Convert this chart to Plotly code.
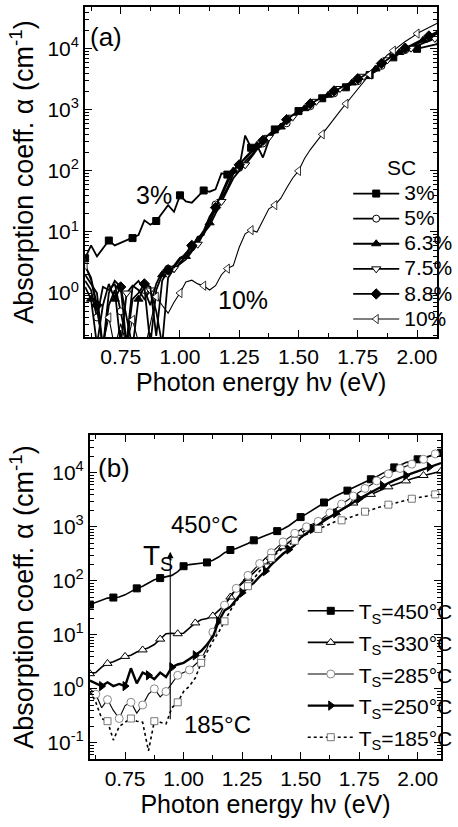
import plotly.graph_objects as go

FONT = "Liberation Sans, Arial, Helvetica, sans-serif"

# Photon energy grid (eV) shared by every spectrum
energy = [0.600, 0.625, 0.650, 0.675, 0.700, 0.725, 0.750, 0.775, 0.800, 0.825,
          0.850, 0.875, 0.900, 0.925, 0.950, 0.975, 1.000, 1.025, 1.050, 1.075,
          1.100, 1.125, 1.150, 1.175, 1.200, 1.225, 1.250, 1.275, 1.300, 1.325,
          1.350, 1.375, 1.400, 1.425, 1.450, 1.475, 1.500, 1.525, 1.550, 1.575,
          1.600, 1.625, 1.650, 1.675, 1.700, 1.725, 1.750, 1.775, 1.800, 1.825,
          1.850, 1.875, 1.900, 1.925, 1.950, 1.975, 2.000, 2.025, 2.050, 2.075,
          2.100]

# ---- (a) silane concentration series: log10(alpha / cm^-1) ----
sc_labels = ["3%", "5%", "6.3%", "7.5%", "8.8%", "10%"]

lg_sc_3 = [0.57, 0.78, 0.60, 0.74, 0.86, 0.78, 0.82, 0.87, 0.90, 0.95,
           1.19, 1.12, 1.18, 1.32, 1.44, 1.33, 1.60, 1.50, 1.48, 1.58,
           1.68, 1.66, 1.70, 1.96, 1.94, 1.95, 2.05, 2.58, 2.38, 2.42,
           2.22, 2.50, 2.68, 2.74, 2.82, 2.90, 2.98, 3.02, 3.07, 3.14,
           3.19, 3.23, 3.27, 3.32, 3.37, 3.42, 3.47, 3.52, 3.57, 3.63,
           3.70, 3.78, 3.86, 3.92, 3.96, 3.98, 4.00, 4.02, 4.04, 4.07,
           4.10]
lg_sc_5 = [0.20, 0.05, -0.40, 0.10, 0.05, 0.15, -0.30, -0.80, 0.10, 0.20,
           0.05, -0.20, 0.15, 0.35, 0.40, 0.45, 0.58, 0.62, 0.75, 0.92,
           0.95, 1.20, 1.45, 1.55, 1.72, 1.95, 2.05, 2.15, 2.25, 2.38,
           2.45, 2.55, 2.62, 2.70, 2.78, 2.88, 2.95, 3.00, 3.06, 3.12,
           3.18, 3.22, 3.27, 3.32, 3.37, 3.42, 3.47, 3.52, 3.58, 3.65,
           3.72, 3.80, 3.87, 3.93, 3.98, 4.03, 4.08, 4.13, 4.18, 4.23,
           4.28]
lg_sc_63 = [0.10, -0.10, -0.85, -0.20, 0.15, -0.10, 0.10, -0.40, -0.90, -0.10,
            0.10, -0.85, 0.05, 0.30, 0.42, 0.35, 0.50, 0.60, 0.70, 0.85,
            1.00, 1.15, 1.38, 1.60, 1.80, 2.00, 2.12, 2.20, 2.30, 2.42,
            2.50, 2.58, 2.65, 2.72, 2.80, 2.88, 2.96, 3.02, 3.08, 3.14,
            3.20, 3.24, 3.29, 3.34, 3.39, 3.44, 3.49, 3.54, 3.60, 3.67,
            3.74, 3.82, 3.88, 3.94, 3.99, 4.04, 4.09, 4.14, 4.19, 4.24,
            4.29]
lg_sc_75 = [0.30, 0.15, 0.00, -0.90, -0.20, 0.05, -0.85, 0.00, 0.12, 0.05,
            -0.10, 0.05, -0.30, -0.85, 0.25, 0.40, 0.48, 0.55, 0.68, 0.80,
            0.98, 1.10, 1.30, 1.50, 1.70, 1.88, 2.00, 2.10, 2.22, 2.35,
            2.45, 2.55, 2.63, 2.72, 2.80, 2.88, 2.95, 3.02, 3.08, 3.14,
            3.20, 3.25, 3.30, 3.35, 3.40, 3.45, 3.50, 3.55, 3.61, 3.68,
            3.75, 3.82, 3.88, 3.93, 3.97, 4.01, 4.05, 4.09, 4.13, 4.17,
            4.21]
lg_sc_88 = [0.45, 0.25, -0.20, -0.90, 0.00, 0.20, 0.10, -0.85, -0.10, 0.00,
            0.15, 0.10, -0.70, 0.20, 0.38, 0.42, 0.55, 0.65, 0.78, 0.88,
            1.02, 1.25, 1.40, 1.62, 1.85, 2.02, 2.10, 2.22, 2.32, 2.40,
            2.50, 2.60, 2.68, 2.76, 2.84, 2.92, 2.99, 3.05, 3.10, 3.16,
            3.21, 3.26, 3.31, 3.36, 3.41, 3.46, 3.51, 3.56, 3.62, 3.69,
            3.76, 3.83, 3.90, 3.96, 4.01, 4.06, 4.11, 4.16, 4.21, 4.26,
            4.31]
lg_sc_10 = [0.45, 0.20, -0.30, -0.85, -0.40, -0.90, -0.50, -0.85, -0.44, -0.80,
            -0.95, -0.50, -0.06, -0.20, -0.33, -0.15, 0.00, 0.18, 0.21, 0.15,
            0.12, 0.05, 0.12, 0.30, 0.40, 0.45, 0.75, 0.97, 1.03, 1.00,
            1.20, 1.38, 1.44, 1.55, 1.72, 1.88, 2.00, 2.20, 2.35, 2.48,
            2.60, 2.72, 2.85, 2.98, 3.10, 3.22, 3.35, 3.47, 3.58, 3.70,
            3.80, 3.90, 3.97, 4.05, 4.12, 4.18, 4.25, 4.30, 4.35, 4.40,
            4.45]

# ---- (b) substrate temperature series: log10(alpha / cm^-1) ----
ts_labels = ["450°C", "330°C", "285°C", "250°C", "185°C"]

lg_ts_450 = [1.56, 1.60, 1.65, 1.68, 1.69, 1.70, 1.74, 1.80, 1.86, 1.90,
             1.96, 2.02, 2.05, 2.07, 2.10, 2.17, 2.27, 2.30, 2.31, 2.32,
             2.34, 2.38, 2.44, 2.52, 2.57, 2.60, 2.64, 2.69, 2.75, 2.80,
             2.84, 2.88, 2.92, 2.96, 3.02, 3.10, 3.18, 3.24, 3.31, 3.38,
             3.45, 3.51, 3.57, 3.62, 3.67, 3.72, 3.77, 3.82, 3.88, 3.93,
             3.99, 4.04, 4.10, 4.15, 4.19, 4.22, 4.25, 4.28, 4.31, 4.34,
             4.37]
lg_ts_330 = [0.28, 0.30, 0.40, 0.47, 0.50, 0.55, 0.60, 0.62, 0.68, 0.72,
             0.76, 0.82, 0.92, 1.02, 1.03, 1.02, 1.03, 1.12, 1.22, 1.28,
             1.30, 1.35, 1.45, 1.55, 1.70, 1.85, 1.95, 2.05, 2.15, 2.25,
             2.35, 2.45, 2.55, 2.63, 2.72, 2.80, 2.88, 2.95, 3.01, 3.08,
             3.14, 3.20, 3.26, 3.32, 3.38, 3.44, 3.49, 3.55, 3.60, 3.65,
             3.69, 3.74, 3.78, 3.82, 3.85, 3.89, 3.92, 3.95, 3.98, 4.01,
             4.03]
lg_ts_285 = [0.00, -0.10, -0.35, -0.20, -0.40, -0.55, -0.31, -0.25, -0.45, -0.30,
             -0.10, 0.00, -0.15, -0.05, 0.10, 0.25, 0.30, 0.35, 0.45, 0.55,
             0.75, 1.05, 1.33, 1.55, 1.72, 1.86, 1.98, 2.10, 2.20, 2.32,
             2.42, 2.52, 2.62, 2.72, 2.80, 2.88, 2.95, 3.00, 3.05, 3.10,
             3.18, 3.26, 3.34, 3.42, 3.50, 3.57, 3.64, 3.71, 3.78, 3.85,
             3.92, 3.98, 4.03, 4.08, 4.12, 4.16, 4.20, 4.25, 4.30, 4.35,
             4.40]
lg_ts_250 = [0.15, 0.10, 0.05, 0.12, 0.05, 0.09, 0.05, 0.38, 0.10, 0.30,
             0.25, 0.18, 0.30, 0.22, 0.40, 0.45, 0.48, 0.55, 0.62, 0.70,
             0.82, 0.96, 1.25, 1.45, 1.52, 1.65, 1.78, 1.88, 1.96, 2.08,
             2.18, 2.30, 2.40, 2.50, 2.58, 2.66, 2.80, 2.88, 2.96, 3.04,
             3.11, 3.18, 3.25, 3.32, 3.39, 3.46, 3.52, 3.58, 3.64, 3.70,
             3.76, 3.81, 3.86, 3.91, 3.95, 3.99, 4.03, 4.07, 4.11, 4.15,
             4.18]
lg_ts_185 = [-0.05, -0.25, -0.55, -0.60, -0.95, -0.70, -0.62, -0.55, -0.60, -0.62,
             -1.15, -0.60, -0.62, -0.65, -0.35, -0.25, -0.05, 0.05, 0.20, 0.48,
             0.68, 0.88, 1.05, 1.25, 1.45, 1.62, 1.76, 1.90, 2.05, 2.18,
             2.30, 2.42, 2.52, 2.60, 2.67, 2.74, 2.80, 2.86, 2.91, 2.96,
             3.01, 3.06, 3.10, 3.12, 3.16, 3.20, 3.24, 3.28, 3.32, 3.35,
             3.38, 3.41, 3.44, 3.47, 3.50, 3.52, 3.54, 3.56, 3.58, 3.60,
             3.61]

# y tick positions / labels
ytick_a = [1, 10, 100, 1000, 10000]
ytick_a_text = ["10<sup>0</sup>", "10<sup>1</sup>", "10<sup>2</sup>", "10<sup>3</sup>", "10<sup>4</sup>"]
ytick_b = [0.1, 1, 10, 100, 1000, 10000]
ytick_b_text = ["10<sup>-1</sup>"] + ytick_a_text

BLACK = "black"
fig = go.Figure()


def add_series(lg, name, xa, ya, legend, line, marker, start, step=4):
    alpha = [10 ** v for v in lg]
    fig.add_trace(go.Scatter(x=energy, y=alpha, mode="lines", line=line,
                             xaxis=xa, yaxis=ya, showlegend=False, hoverinfo="skip"))
    fig.add_trace(go.Scatter(x=energy[start::step], y=alpha[start::step], mode="markers",
                             marker=marker, xaxis=xa, yaxis=ya, showlegend=False))
    # entry used only for the key
    fig.add_trace(go.Scatter(x=[None], y=[None], mode="lines+markers", line=line, marker=marker,
                             name=name, legend=legend, xaxis=xa, yaxis=ya))


def mk(symbol, filled, size=7, lw=1.0, edge=BLACK):
    return dict(symbol=symbol, size=size, color=BLACK if filled else "white",
                line=dict(color=edge, width=lw))


def leg_text(t, size):
    return '<span style="font-size:%dpx">%s</span>' % (size, t)


# panel (a)
sc_series = [lg_sc_3, lg_sc_5, lg_sc_63, lg_sc_75, lg_sc_88, lg_sc_10]
sc_markers = [mk("square", True), mk("circle", False), mk("triangle-up", True, 8),
              mk("triangle-down", False, 8), mk("diamond", True, 8), mk("triangle-left", False, 8, 0.8)]
sc_lines = [dict(color=BLACK, width=1.8)] * 5 + [dict(color=BLACK, width=1.1)]
sc_start = [0, 2, 1, 3, 2, 0]
for lg, lab, m, ln, s in zip(sc_series, sc_labels, sc_markers, sc_lines, sc_start):
    add_series(lg, leg_text(lab, 21), "x", "y", "legend", ln, m, s)

# panel (b)
ts_series = [lg_ts_450, lg_ts_330, lg_ts_285, lg_ts_250, lg_ts_185]
ts_markers = [mk("square", True), mk("triangle-up", False, 8), mk("circle", False, 8, 1.0, "#888888"),
              mk("triangle-right", True, 8), mk("square", False, 7, 0.8, "#555555")]
ts_lines = [dict(color=BLACK, width=1.6), dict(color=BLACK, width=1.6), dict(color=BLACK, width=1.1),
            dict(color=BLACK, width=2.4), dict(color=BLACK, width=1.6, dash="dot")]
ts_start = [0, 0, 1, 2, 3]
ts_step = [4, 3, 2, 4, 4]
for lg, lab, m, ln, s, st in zip(ts_series, ts_labels, ts_markers, ts_lines, ts_start, ts_step):
    add_series(lg, leg_text("T<sub>S</sub>=" + lab, 21), "x2", "y2", "legend2", ln, m, s, st)

minor_logvals = [m * 10 ** d for d in range(-2, 5) for m in range(2, 10)]


def x_axis(domain, rng, anchor):
    return dict(domain=domain, range=rng, anchor=anchor, tick0=0.75, dtick=0.25, tickformat=".2f",
                ticks="inside", ticklen=7, tickwidth=1.3, tickcolor=BLACK,
                minor=dict(ticks="inside", ticklen=4, tickwidth=1.1, tickcolor=BLACK, dtick=0.125, showgrid=False),
                showline=True, linewidth=2, linecolor=BLACK, mirror="allticks",
                showgrid=False, zeroline=False,
                tickfont=dict(family=FONT, size=21, color=BLACK),
                title=dict(text="Photon energy hν (eV)", font=dict(family=FONT, size=25, color=BLACK), standoff=6))


def y_axis(domain, rng, anchor, tv, tt):
    return dict(type="log", domain=domain, range=rng, anchor=anchor,
                tickmode="array", tickvals=tv, ticktext=tt,
                ticks="inside", ticklen=7, tickwidth=1.3, tickcolor=BLACK,
                minor=dict(ticks="inside", ticklen=4, tickwidth=1.0, tickcolor=BLACK,
                           tickmode="array", tickvals=minor_logvals, showgrid=False),
                showline=True, linewidth=2, linecolor=BLACK, mirror="allticks",
                showgrid=False, zeroline=False,
                tickfont=dict(family=FONT, size=21, color=BLACK),
                title=dict(text="Absorption coeff. α (cm<sup>-1</sup>)",
                           font=dict(family=FONT, size=27, color=BLACK), standoff=6))


W, H = 458, 827
fig.update_layout(
    width=W, height=H, autosize=False,
    margin=dict(l=0, r=0, t=0, b=0),
    paper_bgcolor="white", plot_bgcolor="white",
    font=dict(family=FONT, color=BLACK),
    xaxis=x_axis([88 / W, 452 / W], [0.6, 2.085], "y"),
    yaxis=y_axis([1 - 337 / H, 1 - 7 / H], [-0.72, 4.685], "x", ytick_a, ytick_a_text),
    xaxis2=x_axis([93 / W, 456 / W], [0.6, 2.1], "y2"),
    yaxis2=y_axis([1 - 759 / H, 1 - 435 / H], [-1.3, 4.7], "x2", ytick_b, ytick_b_text),
    legend=dict(x=360 / W, y=1 - 176 / H, xanchor="left", yanchor="top", bgcolor="rgba(0,0,0,0)",
                font=dict(family=FONT, size=17, color=BLACK), itemwidth=46, borderwidth=0),
    legend2=dict(x=313 / W, y=1 - 590 / H, xanchor="left", yanchor="top", bgcolor="rgba(0,0,0,0)",
                 font=dict(family=FONT, size=22, color=BLACK), itemwidth=46, borderwidth=0),
    showlegend=True,
)

ann_font = dict(family=FONT, size=25, color=BLACK)
annotations = [
    dict(text="(a)", x=0.686, y=4.19, xref="x", yref="y", showarrow=False, font=dict(family=FONT, size=26, color=BLACK)),
    dict(text="3%", x=0.892, y=1.60, xref="x", yref="y", showarrow=False, font=ann_font),
    dict(text="10%", x=1.265, y=-0.11, xref="x", yref="y", showarrow=False, font=ann_font),
    dict(text="SC", x=1.936, y=2.06, xref="x", yref="y", showarrow=False, font=dict(family=FONT, size=21, color=BLACK)),
    dict(text="(b)", x=0.702, y=4.08, xref="x2", yref="y2", showarrow=False, font=dict(family=FONT, size=26, color=BLACK)),
    dict(text="T<sub>S</sub>", x=0.89, y=2.44, xref="x2", yref="y2", showarrow=False, font=dict(family=FONT, size=28, color=BLACK)),
    dict(text="450°C", x=1.09, y=3.05, xref="x2", yref="y2", showarrow=False, font=dict(family=FONT, size=24, color=BLACK)),
    dict(text="185°C", x=1.145, y=-0.66, xref="x2", yref="y2", showarrow=False, font=dict(family=FONT, size=24, color=BLACK)),
    # growth-temperature arrow
    dict(text="", x=0.943, y=2.54, ax=0.943, ay=-0.59, xref="x2", yref="y2", axref="x2", ayref="y2",
         showarrow=True, arrowhead=2, arrowsize=1.2, arrowwidth=1.1, arrowcolor=BLACK, standoff=0),
]
fig.update_layout(annotations=annotations)

fig.write_html("out.html")
